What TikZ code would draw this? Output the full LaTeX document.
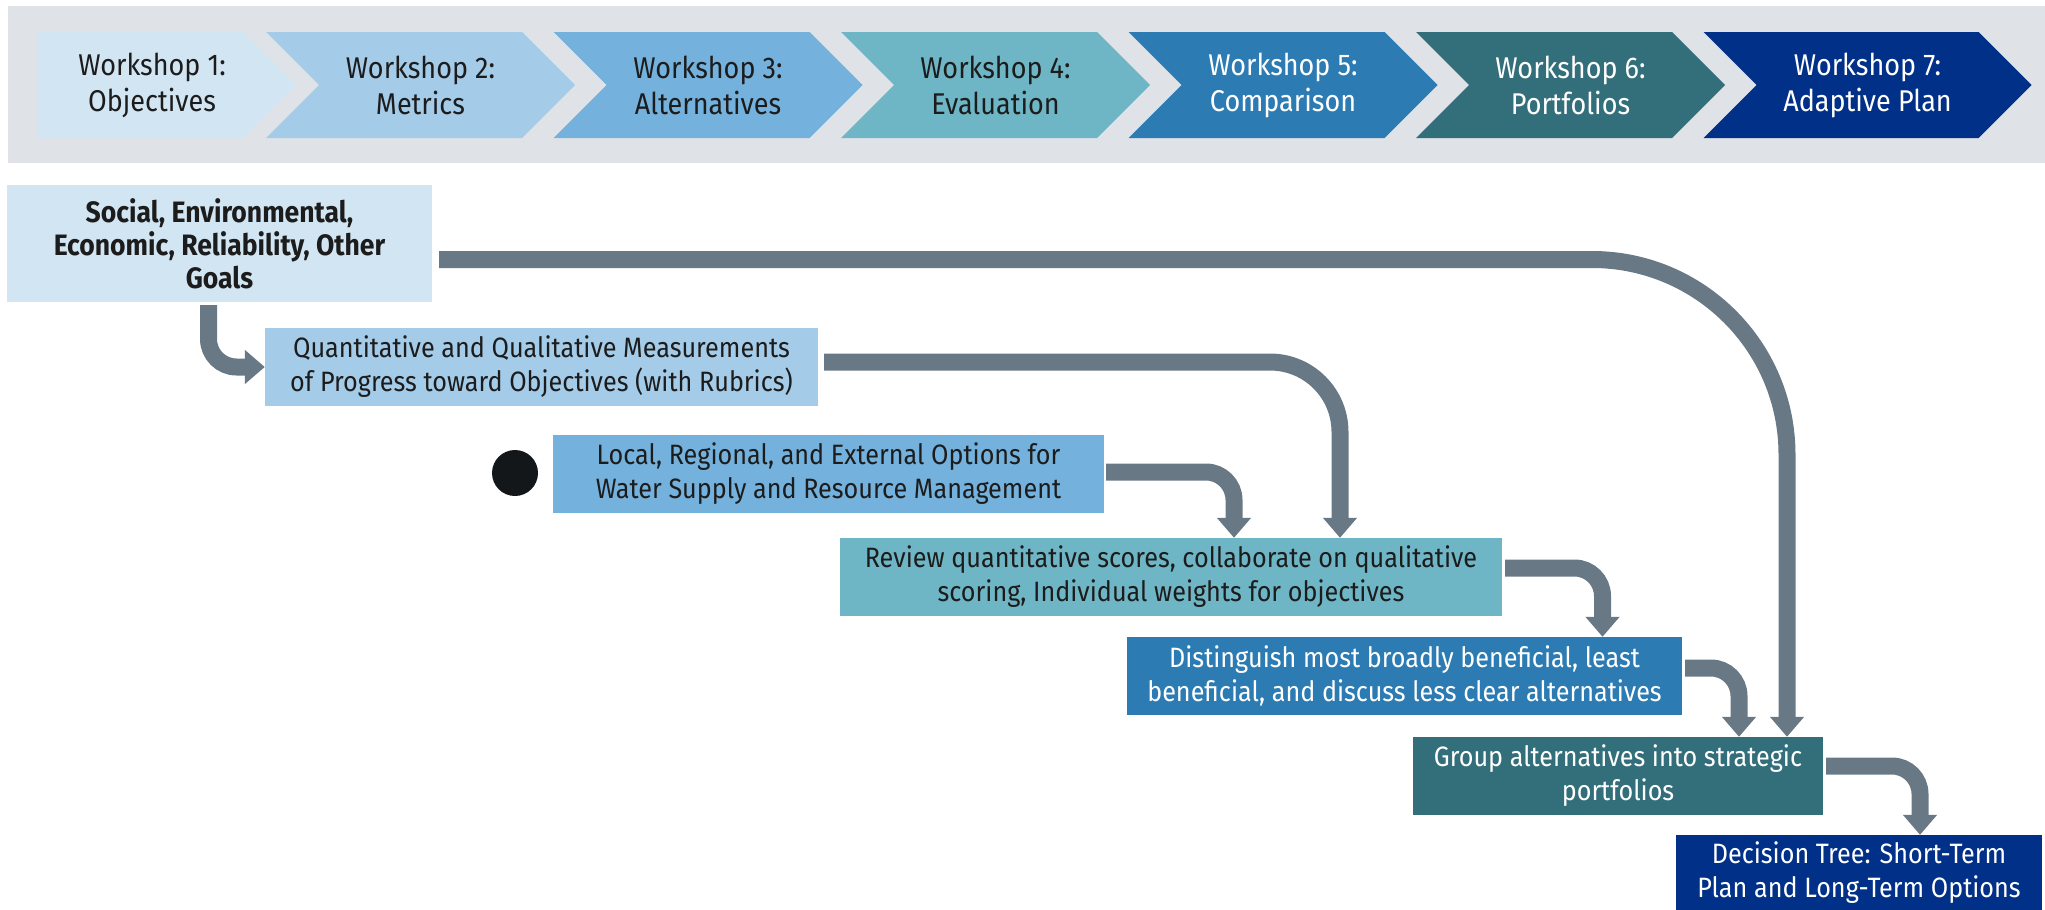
\documentclass[tikz,border=0pt]{standalone}
\usepackage{fontspec}
\setmainfont{Fira Sans}[FakeStretch=0.9]
\usetikzlibrary{arrows.meta}

\definecolor{bannergrey}{HTML}{DFE3E7}
\definecolor{stageone}{HTML}{D2E5F3}
\definecolor{stagetwo}{HTML}{A4CBE8}
\definecolor{stagethree}{HTML}{74B1DC}
\definecolor{stagefour}{HTML}{6EB6C5}
\definecolor{stagefive}{HTML}{2C7BB3}
\definecolor{stagesix}{HTML}{336F7A}
\definecolor{stageseven}{HTML}{003087}
\definecolor{ink}{HTML}{1C1C1C}
\definecolor{dotink}{HTML}{14171A}
\definecolor{flowgrey}{HTML}{687985}

\begin{document}
\begin{tikzpicture}[x=1pt, y=-1pt,
    wslabel/.style={inner sep=0pt, align=center, font=\fontsize{30}{36}\selectfont},
    stagebox/.style={rectangle, inner sep=0pt, minimum height=78pt, align=center, text=ink, font=\fontsize{28}{34}\selectfont},
    flow/.style={draw=flowgrey, line width=17pt, -{Triangle[length=20pt, width=33pt]}}]
  \useasboundingbox (0,0) rectangle (2045,910);
  \fill[bannergrey] (8,6) rectangle (2045,163);

  \fill[stageone] (37,32) -- (243,32) -- (296,85) -- (243,138) -- (37,138) -- cycle;
  \node[wslabel, text=ink, name=ws1] at (152,85) {Workshop 1:\\Objectives};
  \foreach \i/\lbl/\col/\txt/\len in {2/Metrics/stagetwo/ink/256, 3/Alternatives/stagethree/ink/256,
      4/Evaluation/stagefour/ink/256, 5/Comparison/stagefive/white/256,
      6/Portfolios/stagesix/white/256, 7/Adaptive Plan/stageseven/white/275}{
    \pgfmathsetmacro{\lft}{266+(\i-2)*287.5}
    \fill[fill=\col] (\lft,32) -- ++(\len,0) -- ++(53,53) -- ++(-53,53) -- ++(-\len,0) -- ++(53,-53) -- cycle;
    \node[wslabel, text=\txt, name=ws\i] at (\lft+26.5+\len/2,85) {Workshop \i:\\\lbl};
  }

  \node[stagebox, fill=stageone, minimum width=425pt, minimum height=117pt, name=goals,
    font=\bfseries\fontsize{29.5}{33}\selectfont] at (219.5,243.5)
    {Social, Environmental,\\Economic, Reliability, Other\\Goals};
  \node[stagebox, fill=stagetwo, minimum width=553pt, name=measures] at (541.5,367)
    {Quantitative and Qualitative Measurements\\of Progress toward Objectives (with Rubrics)};
  \node[circle, fill=dotink, minimum size=46pt, inner sep=0pt, name=dot] at (515,473) {};
  \node[stagebox, fill=stagethree, minimum width=551pt, name=options] at (828.5,474)
    {Local, Regional, and External Options for\\Water Supply and Resource Management};
  \node[stagebox, fill=stagefour, minimum width=662pt, name=review] at (1171,577)
    {Review quantitative scores, collaborate on qualitative\\scoring, Individual weights for objectives};
  \node[stagebox, fill=stagefive, text=white, minimum width=555pt, name=distinguish] at (1404.5,676)
    {Distinguish most broadly beneficial, least\\beneficial, and discuss less clear alternatives};
  \node[stagebox, fill=stagesix, text=white, minimum width=410pt, name=group] at (1618,776)
    {Group alternatives into strategic\\portfolios};
  \node[stagebox, fill=stageseven, text=white, minimum width=366pt, minimum height=75pt, name=tree] at (1859,872.5)
    {Decision Tree: Short-Term\\Plan and Long-Term Options};

  \draw[flow, rounded corners=195pt] ([xshift=7pt, yshift=-16pt]goals.east) -| ([xshift=169pt]group.north);
  \draw[flow, rounded corners=28pt] ([xshift=-11pt, yshift=-3pt]goals.south) |- (measures.west);
  \draw[flow, rounded corners=70pt] ([xshift=6pt, yshift=5pt]measures.east) -| ([xshift=169pt]review.north);
  \draw[flow, rounded corners=28pt] ([xshift=2pt, yshift=2pt]options.east) -| ([xshift=63pt]review.north);
  \draw[flow, rounded corners=28pt] ([xshift=3pt, yshift=9pt]review.east) -| ([xshift=198pt]distinguish.north);
  \draw[flow, rounded corners=28pt] ([xshift=3pt, yshift=8pt]distinguish.east) -| ([xshift=121pt]group.north);
  \draw[flow, rounded corners=28pt] ([xshift=3pt, yshift=10pt]group.east) -| ([xshift=61pt]tree.north);
\end{tikzpicture}
\end{document}
